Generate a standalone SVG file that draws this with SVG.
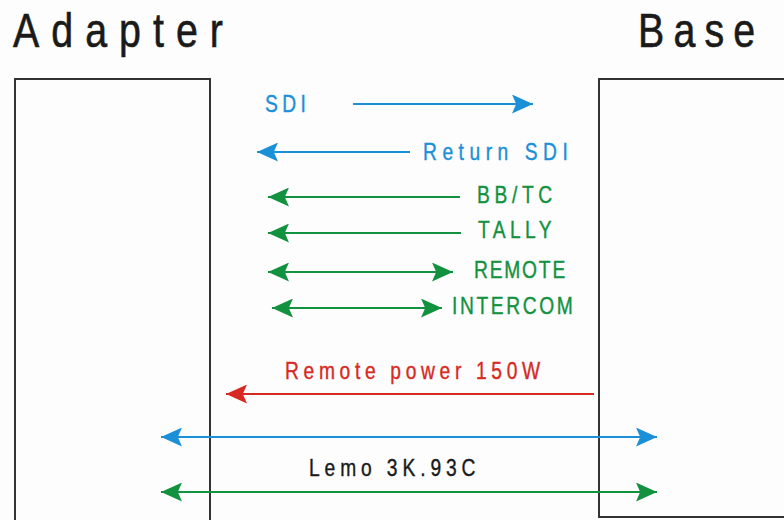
<svg xmlns="http://www.w3.org/2000/svg" width="784" height="520" viewBox="0 0 784 520">
<style>
.box{fill:none;stroke:#333;stroke-width:2}
.title{font-family:"Liberation Sans",Arial,sans-serif;font-size:48px;fill:#1a1a1a;stroke:#1a1a1a;stroke-width:0.6}
.lbl{font-family:"Liberation Sans",Arial,sans-serif;font-size:24px;stroke-width:0.4}
.blue{stroke:#1b8fd8;fill:#1b8fd8}
.green{stroke:#12913f;fill:#12913f}
.red{stroke:#d62a22;fill:#d62a22}
.black{stroke:#1a1a1a;fill:#1a1a1a}
line{stroke-width:2;fill:none}
</style>
<defs>
<marker id="ab" viewBox="0 0 20 18" refX="20" refY="9" markerWidth="21" markerHeight="19" markerUnits="userSpaceOnUse" orient="auto-start-reverse"><path d="M0,0 L20,9 L0,18 L4,9 z" fill="#1b8fd8"/></marker>
<marker id="ag" viewBox="0 0 20 18" refX="20" refY="9" markerWidth="21" markerHeight="19" markerUnits="userSpaceOnUse" orient="auto-start-reverse"><path d="M0,0 L20,9 L0,18 L4,9 z" fill="#12913f"/></marker>
<marker id="ar" viewBox="0 0 20 18" refX="20" refY="9" markerWidth="21" markerHeight="19" markerUnits="userSpaceOnUse" orient="auto-start-reverse"><path d="M0,0 L20,9 L0,18 L4,9 z" fill="#d62a22"/></marker>
</defs>
<rect width="784" height="520" fill="#fdfdfd"/>
<g id="adapter">
<text class="title" transform="translate(13,47) scale(0.82,1)" textLength="256" lengthAdjust="spacing">Adapter</text>
<rect class="box" x="15" y="79" width="195" height="460"/>
</g>
<g id="base">
<text class="title" transform="translate(638,47) scale(0.82,1)" textLength="143" lengthAdjust="spacing">Base</text>
<rect class="box" x="599" y="79" width="200" height="438"/>
</g>
<g id="connectors">
<line class="blue" x1="353" y1="104" x2="533" y2="104" marker-end="url(#ab)"/>
<text class="lbl blue" transform="translate(265,112) scale(0.8,1)" textLength="51" lengthAdjust="spacing">SDI</text>
<line class="blue" x1="410" y1="152" x2="257" y2="152" marker-end="url(#ab)"/>
<text class="lbl blue" transform="translate(423,160) scale(0.8,1)" textLength="181" lengthAdjust="spacing">Return SDI</text>
<line class="green" x1="460" y1="197" x2="268" y2="197" marker-end="url(#ag)"/>
<text class="lbl green" transform="translate(477,203) scale(0.8,1)" textLength="94" lengthAdjust="spacing">BB/TC</text>
<line class="green" x1="461" y1="233" x2="268" y2="233" marker-end="url(#ag)"/>
<text class="lbl green" transform="translate(478,238) scale(0.8,1)" textLength="92" lengthAdjust="spacing">TALLY</text>
<line class="green" x1="268" y1="272" x2="453" y2="272" marker-start="url(#ag)" marker-end="url(#ag)"/>
<text class="lbl green" transform="translate(474,278) scale(0.8,1)" textLength="114" lengthAdjust="spacing">REMOTE</text>
<line class="green" x1="272" y1="308" x2="442" y2="308" marker-start="url(#ag)" marker-end="url(#ag)"/>
<text class="lbl green" transform="translate(452,314) scale(0.8,1)" textLength="151" lengthAdjust="spacing">INTERCOM</text>
<line class="red" x1="594" y1="394" x2="226" y2="394" marker-end="url(#ar)"/>
<text class="lbl red" transform="translate(285,379) scale(0.8,1)" textLength="319" lengthAdjust="spacing">Remote power 150W</text>
<line class="blue" x1="161" y1="437" x2="657" y2="437" marker-start="url(#ab)" marker-end="url(#ab)"/>
<text class="lbl black" transform="translate(309,476) scale(0.8,1)" textLength="208" lengthAdjust="spacing">Lemo 3K.93C</text>
<line class="green" x1="161" y1="492" x2="657" y2="492" marker-start="url(#ag)" marker-end="url(#ag)"/>
</g>
</svg>
